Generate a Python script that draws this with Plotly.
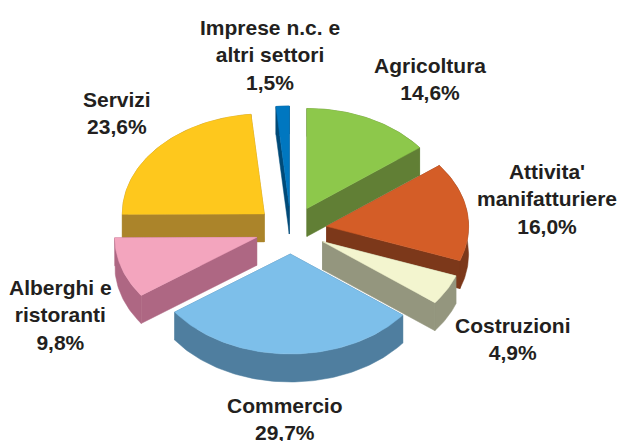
import math
import plotly.graph_objects as go

# Data
categories = ["Agricoltura", "Attivita'<br>manifatturiere", "Costruzioni", "Commercio",
              "Alberghi e<br>ristoranti", "Servizi", "Imprese n.c. e<br>altri settori"]
values = [14.6, 16.0, 4.9, 29.7, 9.8, 23.6, 1.5]
value_labels = ["14,6%", "16,0%", "4,9%", "29,7%", "9,8%", "23,6%", "1,5%"]

# Style
top_colors = ["#8DC84B", "#D45D27", "#F3F5CF", "#7DBFEA", "#F3A5BE", "#FEC81D", "#0077C0"]
side_colors = ["#617F35", "#7C381A", "#94967E", "#4F7E9F", "#AE6783", "#AB842A", "#004A78"]
label_pos = [(430, 79), (547, 199), (513, 339), (285, 419), (60, 315), (117, 113), (270, 55)]
draw_order = [6, 5, 0, 1, 4, 2, 3]

CX, CY = 291, 230      # pie centre
RX, RY = 142, 100      # ellipse radii
EX, EY = 36, 24        # explosion
DEPTH = 28

total = sum(values)
spans, cum = [], 0.0
for v in values:
    spans.append((cum / total * 2 * math.pi, (cum + v) / total * 2 * math.pi))
    cum += v


def arc(tx, ty, a0, a1, dy=0):
    n = max(2, int((a1 - a0) / 0.02))
    angles = [a0 + (a1 - a0) * i / n for i in range(n + 1)]
    return [(tx + RX * math.sin(t), ty - RY * math.cos(t) + dy) for t in angles]


def add_poly(fig, pts, color):
    xs = [p[0] for p in pts] + [pts[0][0]]
    ys = [p[1] for p in pts] + [pts[0][1]]
    fig.add_trace(go.Scatter(x=xs, y=ys, mode="lines", fill="toself", fillcolor=color,
                             line=dict(color=color, width=0.5), hoverinfo="skip", showlegend=False))


fig = go.Figure()
for i in draw_order:
    a0, a1 = spans[i]
    mid = (a0 + a1) / 2
    tx = CX + EX * math.sin(mid)
    ty = CY - EY * math.cos(mid)
    edge = arc(tx, ty, a0, a1)
    walls = []
    # radial walls
    for p in (edge[0], edge[-1]):
        walls.append([(tx, ty), p, (p[0], p[1] + DEPTH), (tx, ty + DEPTH)])
    # outer wall
    walls.append(edge + [(x, y + DEPTH) for x, y in reversed(edge)])
    walls.sort(key=lambda w: sum(p[1] for p in w) / len(w))
    for w in walls:
        add_poly(fig, w, side_colors[i])
    add_poly(fig, [(tx, ty)] + edge, top_colors[i])

for name, lab, (x, y) in zip(categories, value_labels, label_pos):
    fig.add_annotation(x=x, y=y, text=f"{name}<br>{lab}", showarrow=False, align="center",
                       xanchor="center", yanchor="middle",
                       font=dict(family="Liberation Sans", size=21, color="#231F20", weight="bold"))

fig.update_layout(
    width=618, height=441, margin=dict(l=0, r=0, t=0, b=0),
    paper_bgcolor="white", plot_bgcolor="white", showlegend=False,
    xaxis=dict(range=[0, 618], visible=False, fixedrange=True),
    yaxis=dict(range=[441, 0], visible=False, fixedrange=True),
)
fig.write_html("out.html", config={"displayModeBar": False},
               post_script="document.body.style.margin='0';document.body.style.overflow='hidden';")
